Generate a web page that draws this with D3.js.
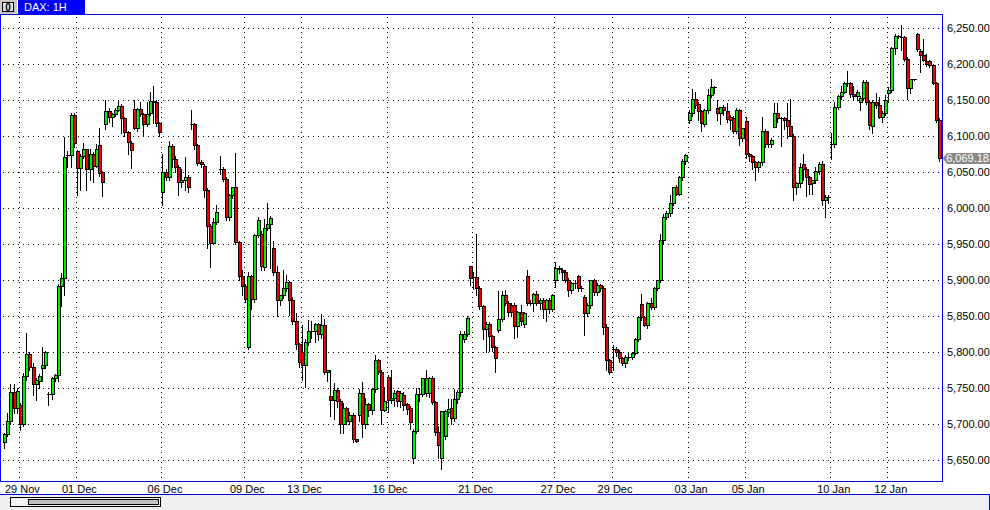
<!DOCTYPE html>
<html><head><meta charset="utf-8">
<script src="https://cdn.jsdelivr.net/npm/d3@7"></script>
<style>body{margin:0;background:#fff;overflow:hidden}svg{display:block}</style>
</head><body><svg id="c" width="990" height="510"></svg>
<script>
const title = "DAX: 1H";
const openP = [5675,5686,5704,5745,5723,5727,5700,5767,5798,5780,
5756,5760,5778,5782,5742,5742,5764,5768,5892,5903,
6074,6074,6130,6080,6056,6072,6082,6055,6076,6059,
6088,6050,6117,6135,6127,6131,6137,6142,6125,6106,
6091,6138,6112,6138,6131,6117,6132,6149,6147,6118,
6023,6051,6044,6086,6068,6057,6037,6040,6043,6117,
6117,6088,6065,6059,6026,5976,5952,5981,6055,6055,
6041,5988,6018,6030,5953,5906,5892,5808,5906,5874,
5963,5965,5919,5973,5978,5945,5912,5872,5879,5890,
5897,5872,5844,5811,5801,5783,5815,5829,5829,5839,
5825,5838,5772,5739,5734,5747,5732,5701,5722,5704,
5713,5679,5713,5743,5700,5728,5720,5749,5789,5773,
5720,5766,5734,5737,5746,5732,5741,5728,5722,5653,
5691,5742,5742,5743,5743,5764,5731,5690,5653,5684,
5717,5722,5709,5735,5745,5819,5826,5920,5905,5905,
5889,5864,5833,5840,5822,5807,5831,5846,5880,5869,
5866,5866,5836,5856,5840,5906,5869,5868,5881,5869,
5872,5860,5872,5860,5901,5917,5915,5912,5901,5886,
5896,5906,5889,5877,5854,5865,5900,5884,5894,5890,
5835,5789,5805,5805,5801,5792,5785,5794,5794,5799,
5819,5867,5849,5838,5868,5863,5889,5900,5956,5988,
5994,6007,6030,6020,6044,6066,6122,6132,6152,6145,
6135,6117,6136,6157,6168,6140,6132,6141,6135,6127,
6126,6107,6136,6097,6121,6075,6072,6064,6057,6064,
6108,6090,6089,6113,6132,6125,6125,6122,6114,6101,
6029,6035,6061,6055,6043,6035,6039,6052,6062,6012,
6016,6090,6089,6141,6156,6162,6174,6174,6159,6156,
6148,6153,6176,6148,6115,6148,6143,6127,6133,6160,
6165,6222,6239,6238,6238,6208,6167,6179,6242,6218,
6213,6204,6204,6199,6174,6123];
const highP = [5688,5716,5756,5756,5750,5730,5771,5827,5800,5785,
5765,5770,5808,5802,5745,5766,5770,5895,5910,6099,
6080,6133,6132,6081,6075,6091,6083,6082,6078,6089,
6111,6052,6151,6140,6133,6140,6150,6145,6127,6108,
6093,6151,6140,6147,6133,6147,6161,6170,6150,6120,
6076,6055,6094,6089,6072,6060,6055,6071,6046,6137,
6119,6090,6067,6062,6028,5978,5987,6004,6072,6058,
6043,6020,6030,6077,5955,5915,5895,5912,5908,5965,
5988,5968,5985,6007,5990,5954,5920,5880,5914,5907,
5899,5877,5854,5813,5838,5818,5845,5844,5841,5841,
5853,5846,5776,5775,5757,5750,5735,5729,5724,5717,
5716,5680,5749,5759,5736,5730,5750,5796,5791,5775,
5752,5768,5776,5748,5748,5746,5745,5730,5725,5693,
5750,5750,5765,5775,5766,5767,5733,5697,5718,5720,
5735,5735,5749,5748,5830,5830,5850,5920,5912,5965,
5892,5866,5842,5842,5824,5809,5885,5885,5886,5871,
5868,5868,5858,5866,5856,5914,5872,5882,5885,5875,
5875,5874,5875,5881,5925,5920,5917,5914,5903,5898,
5900,5907,5892,5880,5868,5901,5902,5896,5895,5892,
5840,5791,5810,5808,5803,5794,5796,5799,5801,5820,
5850,5881,5851,5870,5875,5891,5901,5965,5992,5996,
6019,6030,6032,6045,6068,6076,6137,6166,6162,6147,
6137,6138,6166,6179,6170,6150,6141,6143,6146,6129,
6128,6140,6138,6112,6127,6077,6074,6066,6066,6127,
6110,6108,6097,6146,6146,6127,6127,6146,6152,6103,
6037,6063,6076,6058,6045,6040,6058,6064,6066,6018,
6018,6105,6148,6158,6170,6175,6191,6176,6170,6164,
6156,6178,6178,6150,6150,6160,6155,6135,6157,6169,
6224,6242,6241,6255,6240,6210,6180,6180,6244,6221,
6235,6214,6206,6201,6176,6125];
const lowP = [5667,5684,5700,5716,5716,5692,5698,5762,5775,5741,
5734,5750,5760,5778,5727,5735,5760,5760,5864,5880,
6058,6058,6085,6019,6026,6070,6026,6040,6036,6057,
6045,6017,6110,6120,6115,6128,6135,6105,6100,6075,
6056,6110,6108,6128,6102,6115,6130,6118,6115,6100,
6005,6040,6040,6058,6050,6019,6030,6025,6022,6110,
6083,6060,6058,6016,5945,5919,5950,5978,6047,6038,
5984,5984,6015,5950,5900,5880,5870,5805,5860,5870,
5960,5915,5915,5970,5917,5908,5850,5865,5875,5885,
5852,5840,5805,5780,5761,5752,5810,5820,5815,5817,
5820,5770,5760,5711,5708,5724,5688,5688,5700,5700,
5676,5676,5705,5683,5695,5712,5715,5745,5770,5701,
5718,5717,5730,5725,5725,5724,5720,5715,5693,5646,
5688,5732,5740,5740,5738,5728,5685,5653,5638,5680,
5712,5700,5705,5730,5740,5815,5822,5894,5888,5880,
5860,5819,5800,5802,5802,5772,5828,5843,5866,5850,
5850,5820,5821,5838,5835,5866,5865,5858,5865,5860,
5847,5844,5855,5857,5891,5910,5901,5898,5878,5882,
5890,5885,5885,5824,5850,5862,5880,5880,5885,5826,
5775,5770,5775,5795,5787,5783,5780,5790,5791,5797,
5816,5845,5836,5834,5860,5860,5886,5898,5950,5985,
5990,6004,6018,6018,6040,6062,6118,6128,6140,6122,
6108,6115,6133,6155,6160,6122,6117,6130,6120,6110,
6104,6104,6088,6094,6070,6066,6055,6039,6050,6060,
6085,6085,6085,6113,6120,6087,6110,6098,6100,6012,
6020,6030,6040,6017,6020,6020,6035,6048,6005,5988,
6008,6069,6085,6138,6152,6160,6170,6155,6150,6150,
6136,6150,6145,6110,6105,6140,6125,6120,6130,6148,
6162,6215,6236,6220,6205,6152,6160,6178,6218,6190,
6205,6198,6196,6172,6120,6066];
const closeP = [5686,5704,5745,5723,5746,5700,5767,5798,5780,5756,
5762,5767,5782,5800,5742,5764,5768,5892,5903,6071,
6074,6130,6091,6056,6072,6082,6055,6076,6059,6082,
6049,6036,6135,6127,6131,6137,6142,6125,6106,6092,
6081,6112,6138,6131,6117,6131,6149,6148,6118,6106,
6051,6044,6086,6068,6057,6037,6040,6043,6030,6117,
6088,6063,6061,6026,5976,5952,5981,5995,6055,6041,
5988,6018,6030,5953,5906,5892,5874,5906,5874,5963,
5984,5920,5973,5978,5987,5912,5872,5879,5890,5897,
5872,5844,5811,5786,5783,5815,5829,5830,5839,5825,
5838,5772,5775,5734,5747,5733,5701,5722,5704,5713,
5679,5677,5743,5700,5728,5720,5749,5789,5773,5720,
5732,5734,5737,5744,5732,5744,5727,5721,5703,5691,
5742,5742,5765,5765,5764,5731,5689,5671,5718,5718,
5721,5709,5735,5745,5825,5826,5847,5903,5905,5889,
5864,5833,5840,5822,5807,5792,5846,5880,5869,5856,
5856,5836,5856,5843,5854,5869,5869,5881,5868,5872,
5860,5872,5860,5880,5917,5916,5912,5901,5886,5896,
5896,5889,5889,5854,5865,5900,5884,5894,5890,5835,
5789,5772,5805,5801,5792,5785,5794,5794,5799,5819,
5849,5849,5838,5868,5863,5889,5900,5956,5988,5994,
6007,6029,6020,6044,6066,6074,6132,6152,6143,6135,
6118,6136,6157,6168,6168,6132,6141,6136,6124,6122,
6107,6137,6097,6111,6075,6072,6064,6057,6064,6108,
6090,6089,6095,6132,6125,6125,6122,6114,6101,6029,
6035,6057,6055,6043,6034,6039,6052,6062,6012,6016,
6016,6090,6141,6156,6162,6174,6174,6159,6156,6162,
6153,6176,6148,6116,6148,6143,6127,6133,6151,6165,
6222,6240,6239,6238,6208,6167,6179,6179,6221,6213,
6206,6201,6199,6174,6123,6069.18];
const tickLabels = ["29 Nov","01 Dec","06 Dec","09 Dec","13 Dec","16 Dec","21 Dec","27 Dec","29 Dec","03 Jan","05 Jan","10 Jan","12 Jan"];
const tickIndex = [5,23,50,76,94,121,148,174,192,216,234,261,279];
const priceTicks = [5650,5700,5750,5800,5850,5900,5950,6000,6050,6100,6150,6200,6250];
const lastPrice = closeP[closeP.length-1];

const svg = d3.select("#c");
const FONT = "'Liberation Sans', Arial, sans-serif";
const BLUE = "#0000e6";
const N = openP.length;
const x = d3.scaleLinear().domain([0, N-1]).range([4, 939]);
const y = d3.scaleLinear().domain([5650, 6250]).range([460.3, 28.3]);

svg.append("rect").attr("width",990).attr("height",510).attr("fill","#fff");

// gridlines
const grid = svg.append("g").attr("shape-rendering","crispEdges");
grid.selectAll("line.h").data(priceTicks).join("line")
  .attr("x1",3).attr("x2",942)
  .attr("y1",d=>Math.round(y(d))+0.5).attr("y2",d=>Math.round(y(d))+0.5)
  .attr("stroke","#000").attr("stroke-dasharray","1,4");
grid.selectAll("line.v").data(tickIndex).join("line")
  .attr("x1",d=>Math.round(x(d))-1+0.5).attr("x2",d=>Math.round(x(d))-1+0.5)
  .attr("y1",17).attr("y2",481)
  .attr("stroke","#000").attr("stroke-dasharray","1,4");

// candles
const cg = svg.append("g").attr("shape-rendering","crispEdges");
for (let i=0;i<N;i++){
  const o=openP[i], c=closeP[i], h=Math.max(highP[i],o,c), l=Math.min(lowP[i],o,c);
  const cx = Math.round(x(i));
  const yh = Math.round(y(h)), yl = Math.round(y(l));
  cg.append("rect").attr("x",cx).attr("y",yh).attr("width",1).attr("height",Math.max(1,yl-yh+1)).attr("fill","#000");
  const top = Math.round(y(Math.max(o,c))), bot = Math.round(y(Math.min(o,c)));
  cg.append("rect").attr("x",cx-1).attr("y",top).attr("width",4).attr("height",bot-top+1).attr("fill","#000");
  if (bot-top-1>0){
    cg.append("rect").attr("x",cx).attr("y",top+1).attr("width",2).attr("height",bot-top-1)
      .attr("fill", c>=o ? "#00f000" : "#f00000");
  }
}

// plot border
svg.append("rect").attr("x",0.5).attr("y",14.5).attr("width",942).attr("height",467)
  .attr("fill","none").attr("stroke",BLUE).attr("shape-rendering","crispEdges");

// y axis labels
const yAxis = d3.axisRight(y).tickValues(priceTicks).tickFormat(d3.format(",.2f")).tickSize(0).tickPadding(4);
const ya = svg.append("g").attr("transform","translate(943,0)").call(yAxis);
ya.select(".domain").remove();
ya.selectAll("text").attr("font-family",FONT).attr("font-size",11).attr("fill","#000");

// x axis labels
const xAxis = d3.axisBottom(x).tickValues(tickIndex).tickFormat((d,i)=>tickLabels[i]).tickSize(0).tickPadding(3);
const xa = svg.append("g").attr("transform","translate(2,482)").call(xAxis);
xa.select(".domain").remove();
xa.selectAll("text").attr("font-family",FONT).attr("font-size",11).attr("fill","#000");

// last price tag
const ly = y(lastPrice);
svg.append("path")
  .attr("d",`M943,${ly} L947,${ly-5.5} L990,${ly-5.5} L990,${ly+5.5} L947,${ly+5.5} Z`)
  .attr("fill","#8a8a8a");
svg.append("text").attr("x",989).attr("y",ly+4).attr("text-anchor","end").attr("font-family",FONT).attr("font-size",11)
  .attr("fill","#fff").text(d3.format(",.2f")(lastPrice));

// bottom scroll area
svg.append("rect").attr("x",0).attr("y",495).attr("width",990).attr("height",15).attr("fill","#efefef");
svg.append("line").attr("x1",0).attr("x2",990).attr("y1",494.5).attr("y2",494.5).attr("stroke",BLUE).attr("shape-rendering","crispEdges");
svg.append("line").attr("x1",989.5).attr("x2",989.5).attr("y1",495).attr("y2",510).attr("stroke",BLUE).attr("shape-rendering","crispEdges");
svg.append("rect").attr("x",10.5).attr("y",497.5).attr("width",150).attr("height",9).attr("fill","#f4f4f4").attr("stroke","#000").attr("shape-rendering","crispEdges");
svg.append("rect").attr("x",28.5).attr("y",499.5).attr("width",130).attr("height",5).attr("fill","#c0c0c0").attr("stroke","#000").attr("shape-rendering","crispEdges");

// title bar
svg.append("rect").attr("x",0).attr("y",0).attr("width",17).attr("height",14).attr("fill","#c8c8c8");
svg.append("rect").attr("x",2.5).attr("y",2.5).attr("width",11).attr("height",9).attr("fill","#e0e0e0").attr("stroke","#000").attr("shape-rendering","crispEdges");
svg.append("text").attr("x",8).attr("y",11).attr("text-anchor","middle").attr("font-family",FONT).attr("font-size",10).attr("font-weight","bold").attr("fill","#000").text("0");
svg.append("rect").attr("x",18).attr("y",0).attr("width",67).attr("height",14).attr("fill","#0000ff");
svg.append("text").attr("x",24).attr("y",11).attr("font-family",FONT).attr("font-size",11).attr("fill","#fff").text(title);
</script></body></html>
